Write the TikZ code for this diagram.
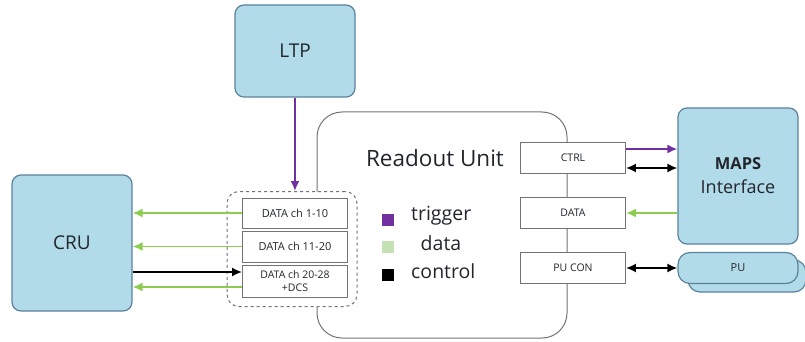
\documentclass[tikz,border=0pt]{standalone}
\usepackage{fontspec}
\setmainfont{Open Sans}
\usetikzlibrary{arrows.meta}
\definecolor{boxblue}{RGB}{178,219,233}
\definecolor{boxedge}{RGB}{90,130,158}
\definecolor{trig}{RGB}{112,48,160}
\definecolor{datag}{RGB}{140,205,80}
\definecolor{legg}{RGB}{197,224,180}
\definecolor{framegray}{RGB}{115,115,115}
\definecolor{inkdark}{RGB}{34,38,44}
\tikzset{
  block/.style={draw=boxedge, fill=boxblue, line width=1.2pt, rounded corners=9pt,
    text=inkdark, inner sep=0pt},
  port/.style={draw=framegray, fill=white, line width=0.9pt, inner sep=0pt,
    minimum width=105pt, text=inkdark, align=center},
  conn/.style={line width=1.8pt, -{Latex[length=10pt,width=9pt]}},
  bidir/.style={line width=1.8pt, {Latex[length=10pt,width=9pt]}-{Latex[length=10pt,width=9pt]}},
  legsq/.style={minimum size=12pt, inner sep=0pt},
  legtxt/.style={font=\fontsize{19.5}{19.5}\selectfont, text=inkdark, inner sep=0pt}
}
\begin{document}
\begin{tikzpicture}[x=1pt,y=-1pt]
\useasboundingbox (0,0) rectangle (805,342);

% Readout unit frame
\draw[framegray, line width=1pt, rounded corners=25pt] (317,112) rectangle (567,338);
\node[font=\fontsize{22.5}{22.5}\selectfont, text=inkdark] (rutitle) at (435,158) {Readout Unit};

% external blocks
\node[block, minimum width=120pt, minimum height=92pt, font=\fontsize{19}{19}\selectfont] (ltp) at (295,51) {LTP};
\node[block, minimum width=120pt, minimum height=136pt, font=\fontsize{19}{19}\selectfont] (cru) at (72,243) {CRU};
\node[block, minimum width=120pt, minimum height=136pt, align=center,
  font=\fontsize{18}{24}\selectfont] (maps) at (738,176)
  {\textbf{\fontsize{16.5}{24}\selectfont MAPS}\\Interface};
\node[block, rounded corners=12pt, minimum width=118pt, minimum height=32pt] (puback) at (747,276) {};
\node[block, rounded corners=12pt, minimum width=120pt, minimum height=31pt, font=\fontsize{11}{11}\selectfont] (pu) at (738,268) {PU};

% data link group
\node[draw=framegray, dashed, line width=1pt, fill=white, rounded corners=12pt,
  minimum width=130pt, minimum height=115pt] (grp) at (292,249) {};
\node[port, minimum height=30pt, font=\fontsize{11}{11}\selectfont] (d1) at (295,213) {DATA ch 1-10};
\node[port, minimum height=31pt, font=\fontsize{11}{11}\selectfont] (d2) at (295,246.5) {DATA ch 11-20};
\node[port, minimum height=32pt, font=\fontsize{10.5}{12.5}\selectfont] (d3) at (295,281) {DATA ch 20-28\\+DCS};

% right-hand ports
\node[port, minimum height=31pt, font=\fontsize{10.5}{10.5}\selectfont] (ctrl) at (573,158) {CTRL};
\node[port, minimum height=31pt, font=\fontsize{10.5}{10.5}\selectfont] (dport) at (573,213) {DATA};
\node[port, minimum height=31pt, font=\fontsize{10.5}{10.5}\selectfont] (pucon) at (573,268) {PU CON};

% legend
\node[legsq, fill=trig] (sqtrig) at (388,220) {};
\node[legsq, fill=legg] (sqdata) at (388,247) {};
\node[legsq, fill=black] (sqctrl) at (388,275) {};
\node[legtxt, anchor=west] (ltrig) at (411,216) {trigger};
\node[legtxt] (ldata) at (441,243) {data};
\node[legtxt, anchor=west] (lctrl) at (411,271) {control};

% attachment points off the port centres
\coordinate (d3lo) at ([yshift=-6pt]d3.west);
\coordinate (d3hi) at ([yshift=9pt]d3.west);
\coordinate (ctrlhi) at ([yshift=9pt]ctrl.east);
\coordinate (ctrllo) at ([yshift=-10pt]ctrl.east);

% connectors
\draw[conn, trig] (ltp.south) -- (ltp.south |- grp.north);
\draw[conn, datag] (d1.west) -- (cru.east |- d1.west);
\draw[conn, datag] (d2.west) -- (cru.east |- d2.west);
\draw[conn, datag] (d3lo) -- (cru.east |- d3lo);
\draw[conn, black] (cru.east |- d3hi) -- (d3hi);

\draw[conn, trig] (ctrlhi) -- (maps.west |- ctrlhi);
\draw[bidir, black] (ctrllo) -- (maps.west |- ctrllo);
\draw[conn, datag] (maps.west |- dport.east) -- (dport.east);
\draw[bidir, black] (pucon.east) -- (pu.west |- pucon.east);
\end{tikzpicture}
\end{document}
